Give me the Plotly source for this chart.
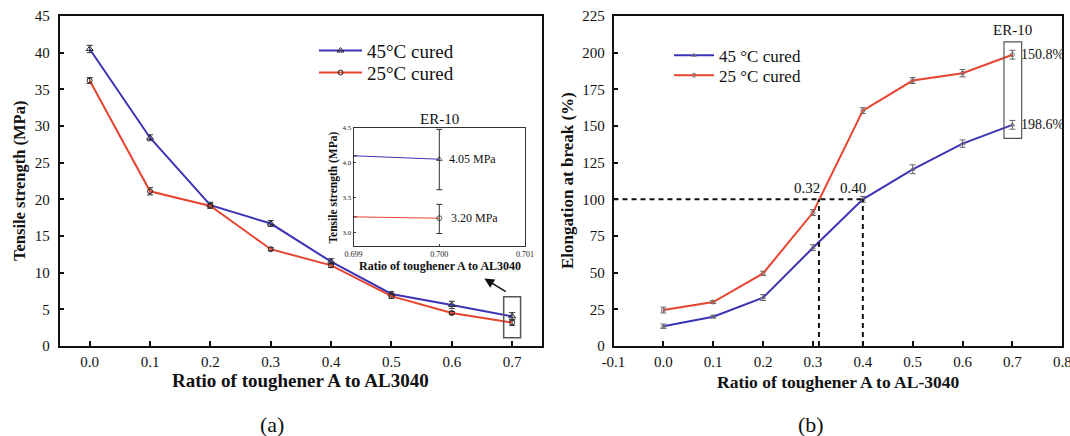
import plotly.graph_objects as go

# ---------------- data ----------------
ratio = [0.0, 0.1, 0.2, 0.3, 0.4, 0.5, 0.6, 0.7]
ts_45 = [40.5, 28.4, 19.2, 16.7, 11.5, 7.1, 5.6, 4.05]
ts_45_err = [0.5, 0.4, 0.4, 0.4, 0.4, 0.3, 0.5, 0.5]
ts_25 = [36.2, 21.1, 19.1, 13.2, 11.0, 6.8, 4.5, 3.2]
ts_25_err = [0.4, 0.5, 0.3, 0.2, 0.3, 0.3, 0.2, 0.4]

inset_x = [0.699, 0.700]
inset_45 = [4.10, 4.05]
inset_45_up = [0, 0.43]
inset_45_dn = [0, 0.44]
inset_25 = [3.22, 3.20]
inset_25_up = [0, 0.20]
inset_25_dn = [0, 0.22]

el_45 = [13.5, 20.0, 33.0, 67.0, 100.0, 120.5, 138.0, 150.8]
el_45_err = [1.5, 1.0, 2.0, 2.0, 2.0, 3.0, 2.5, 3.0]
el_25 = [24.5, 30.0, 49.5, 91.0, 160.5, 181.0, 186.0, 198.6]
el_25_err = [2.0, 1.0, 1.5, 2.0, 2.0, 2.0, 2.5, 3.0]

left_ticks = [0.0, 0.1, 0.2, 0.3, 0.4, 0.5, 0.6, 0.7]
left_yticks = [0, 5, 10, 15, 20, 25, 30, 35, 40, 45]
right_ticks = [-0.1, 0.0, 0.1, 0.2, 0.3, 0.4, 0.5, 0.6, 0.7, 0.8]
right_ticktext = ["-0.1", "0.0", "0.1", "0.2", "0.3", "0.4", "0.5", "0.6", "0.7", "0.8"]
right_yticks = [0, 25, 50, 75, 100, 125, 150, 175, 200, 225]
inset_xticks = [0.699, 0.700, 0.701]
inset_yticks = [3.0, 3.5, 4.0, 4.5]

BLUE = "#3c34b4"
RED = "#e64530"
SERIF = "Liberation Serif"

fig = go.Figure()

# ---- left chart ----
fig.add_trace(go.Scatter(
    x=ratio, y=ts_45, mode="lines+markers", name="45°C cured",
    line=dict(color=BLUE, width=2),
    marker=dict(symbol="triangle-up-open", size=6, color="#222", line=dict(width=1)),
    error_y=dict(type="data", array=ts_45_err, color="#333", thickness=1, width=3),
    xaxis="x", yaxis="y", legend="legend"))
fig.add_trace(go.Scatter(
    x=ratio, y=ts_25, mode="lines+markers", name="25°C cured",
    line=dict(color=RED, width=2),
    marker=dict(symbol="circle-open", size=5, color="#222", line=dict(width=1)),
    error_y=dict(type="data", array=ts_25_err, color="#333", thickness=1, width=3),
    xaxis="x", yaxis="y", legend="legend2"))

# ---- inset ----
fig.add_trace(go.Scatter(
    x=inset_x, y=inset_45, mode="lines+markers", showlegend=False,
    line=dict(color=BLUE, width=1),
    marker=dict(symbol="triangle-up-open", size=[0, 5], color="#222", line=dict(width=1)),
    error_y=dict(type="data", array=inset_45_up, arrayminus=inset_45_dn, color="#333", thickness=1, width=3),
    xaxis="x3", yaxis="y3"))
fig.add_trace(go.Scatter(
    x=inset_x, y=inset_25, mode="lines+markers", showlegend=False,
    line=dict(color=RED, width=1),
    marker=dict(symbol="circle-open", size=[0, 5], color="#222", line=dict(width=1)),
    error_y=dict(type="data", array=inset_25_up, arrayminus=inset_25_dn, color="#333", thickness=1, width=3),
    xaxis="x3", yaxis="y3"))

# ---- right chart ----
fig.add_trace(go.Scatter(
    x=ratio, y=el_45, mode="lines+markers", name="45 °C cured",
    line=dict(color=BLUE, width=2),
    marker=dict(symbol="triangle-up-open", size=4, color="#777", line=dict(width=1)),
    error_y=dict(type="data", array=el_45_err, color="#666", thickness=1, width=3),
    xaxis="x2", yaxis="y2", legend="legend3"))
fig.add_trace(go.Scatter(
    x=ratio, y=el_25, mode="lines+markers", name="25 °C cured",
    line=dict(color=RED, width=2),
    marker=dict(symbol="circle-open", size=4, color="#777", line=dict(width=1)),
    error_y=dict(type="data", array=el_25_err, color="#666", thickness=1, width=3),
    xaxis="x2", yaxis="y2", legend="legend4"))

W, H = 1070, 436
def px(xp):
    return xp / W
def py(yp):
    return (H - yp) / H

axis_common = dict(showline=True, mirror=True, linecolor="#111", linewidth=1.5,
                   ticks="inside", ticklen=5, tickwidth=1.5, tickcolor="#111",
                   showgrid=False, zeroline=False, automargin=False,
                   ticklabeloverflow="allow",
                   tickfont=dict(family=SERIF, size=15, color="#111"))

def leg(xp, yp, size, iw):
    return dict(x=px(xp), y=py(yp), xanchor="left", yanchor="middle",
                bgcolor="rgba(0,0,0,0)", font=dict(family=SERIF, size=size, color="#111"),
                itemwidth=iw, tracegroupgap=0)

fig.update_layout(
    width=W, height=H, autosize=False,
    margin=dict(l=0, r=0, t=0, b=0, pad=0, autoexpand=False),
    paper_bgcolor="white", plot_bgcolor="white",
    font=dict(family=SERIF, color="#111"),
    xaxis=dict(domain=[px(59.5), px(542.3)], range=[-0.05, 0.75], tickvals=left_ticks,
               tickformat=".1f", anchor="y", ticklabelstandoff=1, **axis_common),
    yaxis=dict(domain=[py(346), py(16)], range=[0, 45], tickvals=left_yticks,
               anchor="x", ticklabelstandoff=5, **axis_common),
    xaxis2=dict(domain=[px(613.5), px(1062.3)], range=[-0.1, 0.8], tickvals=right_ticks,
                ticktext=right_ticktext, anchor="y2", ticklabelstandoff=1, **axis_common),
    yaxis2=dict(domain=[py(346), py(16)], range=[0, 225], tickvals=right_yticks,
                anchor="x2", ticklabelstandoff=4, **axis_common),
    xaxis3=dict(domain=[px(353.6), px(525)], range=[0.699, 0.701], tickvals=inset_xticks,
                tickformat=".3f", anchor="y3", showline=True, mirror=True, linecolor="#333",
                linewidth=1, ticks="inside", ticklen=2, showgrid=False, zeroline=False,
                automargin=False, ticklabeloverflow="allow",
                tickfont=dict(family=SERIF, size=8, color="#222")),
    yaxis3=dict(domain=[py(246), py(128)], range=[2.8, 4.5], tickvals=inset_yticks,
                tickformat=".1f", anchor="x3", showline=True, mirror=True, linecolor="#333",
                linewidth=1, ticks="inside", ticklen=2, showgrid=False, zeroline=False,
                automargin=False, ticklabeloverflow="allow",
                tickfont=dict(family=SERIF, size=7, color="#222")),
    legend=leg(314, 50.7, 19, 43),
    legend2=leg(314, 72.7, 19, 43),
    legend3=leg(669, 55.7, 17, 40),
    legend4=leg(669, 75.7, 17, 40),
)

shapes = [
    dict(type="rect", xref="x", yref="y", x0=0.686, x1=0.714, y0=1.13, y1=6.72,
         line=dict(color="#555", width=1.5)),
    dict(type="rect", xref="x2", yref="y2", x0=0.683, x1=0.7185, y0=141.5, y1=207.3,
         line=dict(color="#555", width=1.2)),
    dict(type="line", xref="x2", yref="y2", x0=-0.1, x1=0.4, y0=100, y1=100,
         line=dict(color="#111", width=2, dash="5px,4px")),
    dict(type="line", xref="x2", yref="y2", x0=0.312, x1=0.312, y0=0, y1=100,
         line=dict(color="#111", width=2, dash="5px,4px")),
    dict(type="line", xref="x2", yref="y2", x0=0.4, x1=0.4, y0=0, y1=100,
         line=dict(color="#111", width=2, dash="5px,4px")),
]
fig.update_layout(shapes=shapes)

def txt(text, x, y, size, xref="paper", yref="paper", angle=0, xanchor="center", xshift=0):
    return dict(text=text, x=x, y=y, xref=xref, yref=yref, showarrow=False,
                textangle=angle, xanchor=xanchor, yanchor="middle", xshift=xshift,
                font=dict(family=SERIF, size=size, color="#111"))

ann = [
    txt("<b>Ratio of toughener A to AL3040</b>", px(300.4), py(380), 19),
    txt("<b>Tensile strength (MPa)</b>", px(19), py(181), 16.5, angle=-90),
    txt("<b>Ratio of toughener A to AL-3040</b>", px(838.3), py(381.7), 17.5),
    txt("<b>Elongation at break (%)</b>", px(567), py(181), 17, angle=-90),
    txt("(a)", px(272), py(424), 22),
    txt("(b)", px(810.5), py(424), 22),
    # inset texts
    txt("ER-10", 0.700, py(118.5), 15, xref="x3"),
    txt("<b>Ratio of toughener A to AL3040</b>", px(440), py(265.7), 12),
    txt("<b>Tensile strength (MPa)</b>", px(333), py(187.5), 11.5, angle=-90),
    txt("4.05 MPa", inset_x[1], inset_45[1], 12, xref="x3", yref="y3", xanchor="left", xshift=8),
    txt("3.20 MPa", inset_x[1], inset_25[1], 12, xref="x3", yref="y3", xanchor="left", xshift=10),
    # right chart texts
    txt("ER-10", 0.7, 215.5, 15, xref="x2", yref="y2"),
    txt("150.8%", ratio[-1], el_25[-1], 14, xref="x2", yref="y2", xanchor="left", xshift=7),
    txt("198.6%", ratio[-1], el_45[-1], 14, xref="x2", yref="y2", xanchor="left", xshift=7),
    txt("0.32", 0.288, 107.5, 15, xref="x2", yref="y2"),
    txt("0.40", 0.38, 107.5, 15, xref="x2", yref="y2"),
    # arrow pointing from box to inset
    dict(x=0.654, y=9.2, ax=0.692, ay=7.3, xref="x", yref="y", axref="x", ayref="y",
         showarrow=True, arrowhead=2, arrowsize=1.3, arrowwidth=1.5, arrowcolor="#111", text=""),
]
fig.update_layout(annotations=ann)

fig.write_html("out.html")
